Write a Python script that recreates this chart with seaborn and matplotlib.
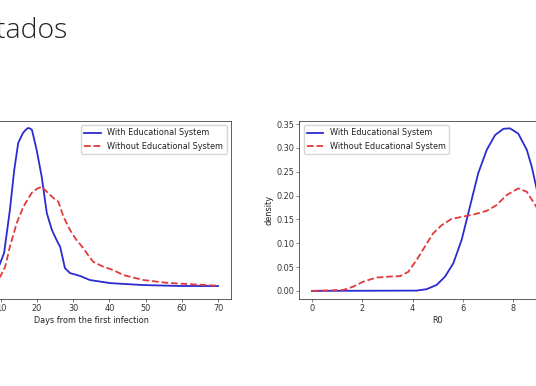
import matplotlib
matplotlib.use("Agg")
import matplotlib.pyplot as plt
import seaborn as sns

# left panel: share of new infections per day (peak ~0.1)
days_with = [9.0, 9.8, 10.9, 12.5, 13.7, 14.8, 16.1, 16.9, 17.5, 18.1, 18.6, 19.9, 21.3,
             22.7, 24.1, 25.4, 26.4, 27.7, 29.1, 31.9, 34.6, 40.2, 49.3, 60.3, 70.0]
cases_with = [0.013, 0.0171, 0.0235, 0.050, 0.0747, 0.0914, 0.0975, 0.0995, 0.1006, 0.1003,
              0.0994, 0.087, 0.0704, 0.0481, 0.0377, 0.0315, 0.0272, 0.0142, 0.0111,
              0.0093, 0.0068, 0.0049, 0.0037, 0.0031, 0.0031]
days_without = [9.0, 9.8, 11.2, 12.5, 14.4, 16.2, 18.5, 19.9, 21.3, 22.7, 24.5, 25.9, 27.3,
                29.1, 30.9, 32.8, 34.1, 35.5, 38.3, 41.0, 43.8, 49.4, 55.8, 63.2, 70.1]
cases_without = [0.0075, 0.0088, 0.015, 0.0273, 0.042, 0.052, 0.0605, 0.063, 0.0644, 0.0613,
                 0.0574, 0.0551, 0.0459, 0.0377, 0.0315, 0.0265, 0.0222, 0.0181, 0.015,
                 0.013, 0.0099, 0.0068, 0.0051, 0.0041, 0.0033]

# right panel: density of R0
r0_with = [0.0, 4.16, 4.56, 4.96, 5.29, 5.62, 5.95, 6.28, 6.61, 6.95, 7.28, 7.61, 7.87,
           8.2, 8.54, 8.74, 8.91, 9.2, 9.6, 10.0]
dens_with = [0.0, 0.0006, 0.0036, 0.0126, 0.03, 0.058, 0.107, 0.177, 0.247, 0.296, 0.327,
             0.34, 0.341, 0.33, 0.296, 0.26, 0.219, 0.16, 0.10, 0.06]
r0_without = [0.0, 1.25, 1.64, 2.04, 2.57, 3.1, 3.5, 3.83, 4.16, 4.49, 4.82, 5.16, 5.55,
              6.02, 6.48, 6.95, 7.34, 7.74, 8.2, 8.54, 8.91, 9.3, 9.7, 10.0]
dens_without = [0.0, 0.002, 0.009, 0.0195, 0.028, 0.03, 0.031, 0.04, 0.065, 0.093, 0.121,
                0.138, 0.151, 0.156, 0.161, 0.168, 0.18, 0.201, 0.215, 0.208, 0.177,
                0.14, 0.10, 0.07]

lbl_with = "With Educational System"
lbl_without = "Without Educational System"
blue = "#2b2bd0"
red = "#e23a3a"

k = 0.537  # screenshot scale
plt.rcParams.update({
    "font.size": 5.9,
    "axes.linewidth": 0.8 * k * 1.3,
    "xtick.major.size": 3.5 * k, "ytick.major.size": 3.5 * k,
    "xtick.major.width": 0.8 * k, "ytick.major.width": 0.8 * k,
    "xtick.major.pad": 3.5 * k, "ytick.major.pad": 3.5 * k,
    "axes.labelpad": 4 * k,
    "axes.edgecolor": "#333333",
    "xtick.color": "#333333", "ytick.color": "#333333",
    "text.color": "#222222", "axes.labelcolor": "#222222",
})

fig = plt.figure(figsize=(5.36, 3.86), dpi=100)
fig.text(68 / 536, 0.9016, "Resultados", ha="right", va="baseline",
         fontsize=20.5, family="Open Sans", fontweight="light", color="#222222")

ax1 = fig.add_axes([-0.0896, 0.2254, 0.52, 0.461])
sns.lineplot(x=days_with, y=cases_with, ax=ax1, color=blue, lw=1.3, label=lbl_with)
sns.lineplot(x=days_without, y=cases_without, ax=ax1, color=red, lw=1.3,
             linestyle="--", label=lbl_without)
ax1.set_xlim(-3.5, 73.5)
ax1.set_ylim(-0.0049, 0.1049)
ax1.set_xticks(range(0, 71, 10))
ax1.set_xlabel("Days from the first infection")
ax1.set_ylabel("")
ax1.legend(loc="upper right")

ax2 = fig.add_axes([0.5586, 0.2254, 0.5162, 0.461])
sns.lineplot(x=r0_with, y=dens_with, ax=ax2, color=blue, lw=1.3, label=lbl_with)
sns.lineplot(x=r0_without, y=dens_without, ax=ax2, color=red, lw=1.3,
             linestyle="--", label=lbl_without)
ax2.set_xlim(-0.5, 10.5)
ax2.set_ylim(-0.017, 0.3563)
ax2.set_xticks([0, 2, 4, 6, 8, 10])
ax2.set_yticks([0, 0.05, 0.10, 0.15, 0.20, 0.25, 0.30, 0.35])
ax2.set_xlabel("R0")
ax2.set_ylabel("density")
ax2.legend(loc="upper left")

fig.savefig("out.png", dpi=100)
